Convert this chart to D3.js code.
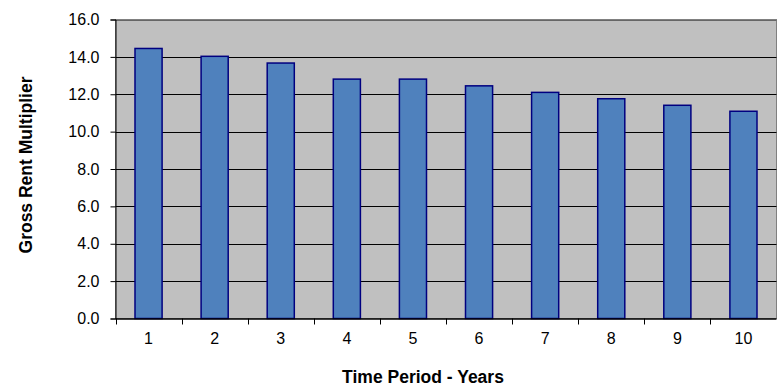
<!DOCTYPE html>
<html>
<head>
<meta charset="utf-8">
<script src="https://cdn.jsdelivr.net/npm/d3@7"></script>
<style>
  html, body { margin: 0; padding: 0; background: #fff; }
  svg { display: block; font-family: "Liberation Sans", Arial, sans-serif; }
</style>
</head>
<body>
<svg id="chart" width="777" height="386"></svg>
<script>
// Gross rent multiplier by year
const years = ["1", "2", "3", "4", "5", "6", "7", "8", "9", "10"];
const grm = [14.45, 14.03, 13.67, 12.81, 12.81, 12.45, 12.1, 11.76, 11.41, 11.09];
const yTicks = [0, 2, 4, 6, 8, 10, 12, 14, 16];

const svg = d3.select("#chart");
const m = { left: 115.5, right: 776.5, top: 19.5, bottom: 318.5 };
const FONT = "'Liberation Sans', Arial, sans-serif";

const x = d3.scaleBand().domain(years).range([m.left, m.right]).paddingInner(0.59).paddingOuter(0.295);
const xBoundary = d3.scaleBand().domain(years).range([m.left, m.right]);
const y = d3.scaleLinear().domain([0, 16]).range([m.bottom, m.top]);

// plot area
svg.append("rect")
  .attr("x", m.left).attr("y", m.top)
  .attr("width", m.right - m.left).attr("height", m.bottom - m.top)
  .attr("fill", "#c0c0c0")
  .attr("stroke", "#808080").attr("stroke-width", 1);

// gridlines
svg.append("g").selectAll("line")
  .data(yTicks.filter(d => d > 0))
  .join("line")
  .attr("x1", m.left).attr("x2", m.right)
  .attr("y1", d => Math.round(y(d)) + 0.5).attr("y2", d => Math.round(y(d)) + 0.5)
  .attr("stroke", d => d === 16 ? "#666" : "#000").attr("stroke-width", 1);

// bars
svg.append("g").selectAll("rect")
  .data(grm)
  .join("rect")
  .attr("x", (d, i) => x(years[i]))
  .attr("width", x.bandwidth())
  .attr("y", d => y(d))
  .attr("height", d => y(0) - y(d))
  .attr("fill", "#4f81bd")
  .attr("stroke", "#000080").attr("stroke-width", 1.5);

// y axis
const yAxis = d3.axisLeft(y).tickValues(yTicks).tickFormat(d3.format(".1f")).tickSize(5).tickPadding(11);
const gy = svg.append("g").attr("transform", `translate(${m.left},0)`).call(yAxis);
gy.attr("font-family", FONT).attr("font-size", 16);
gy.select(".domain").attr("stroke", "#000");
gy.selectAll(".tick line").attr("stroke", "#000");
gy.selectAll(".tick text").attr("fill", "#000");

// x axis: tick marks at category boundaries, labels at centres
const gx = svg.append("g").attr("transform", `translate(0,${m.bottom})`);
gx.append("line").attr("x1", m.left).attr("x2", m.right).attr("y1", 0.5).attr("y2", 0.5)
  .attr("stroke", "#000").attr("stroke-width", 1.5);
const bounds = years.map(d => xBoundary(d)).concat([m.right]);
gx.selectAll("line.tk").data(bounds).join("line").attr("class", "tk")
  .attr("x1", d => Math.round(d) + 0.5).attr("x2", d => Math.round(d) + 0.5)
  .attr("y1", 0).attr("y2", 6).attr("stroke", "#000");
gx.selectAll("text").data(years).join("text")
  .attr("x", d => xBoundary(d) + xBoundary.bandwidth() / 2)
  .attr("y", 25)
  .attr("text-anchor", "middle")
  .attr("font-size", 16)
  .attr("fill", "#000")
  .text(d => d);

// axis titles
svg.append("text")
  .attr("x", 423).attr("y", 383)
  .attr("text-anchor", "middle")
  .attr("font-size", 17.5).attr("font-weight", "bold")
  .text("Time Period - Years");

svg.append("text")
  .attr("transform", "translate(32,165) rotate(-90)")
  .attr("text-anchor", "middle")
  .attr("font-size", 17.5).attr("font-weight", "bold")
  .text("Gross Rent Multiplier");
</script>
</body>
</html>
